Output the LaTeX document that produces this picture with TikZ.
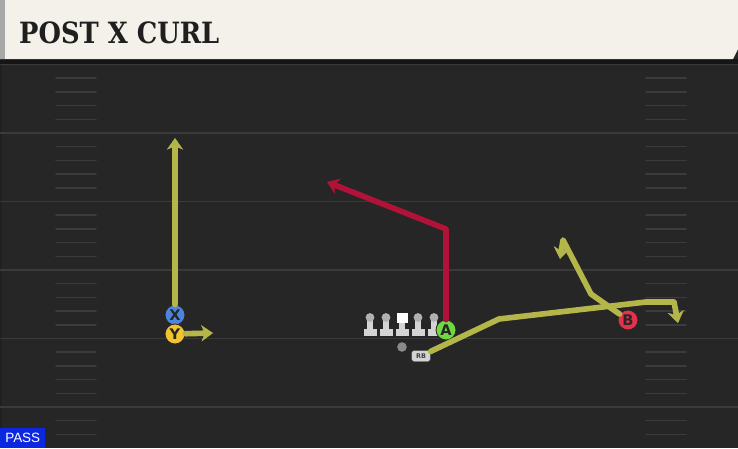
\documentclass[tikz,border=0pt]{standalone}
\usepackage{fontspec}
\setsansfont{DejaVu Sans}
\newfontfamily\titlefont{DejaVu Serif}
\newfontfamily\passfont{Liberation Sans}
\usetikzlibrary{arrows.meta}
\definecolor{fieldgray}{HTML}{262626}
\definecolor{bandgray}{HTML}{161616}
\definecolor{linegray}{HTML}{3A3A3A}
\definecolor{hashgray}{HTML}{3C3C3C}
\definecolor{cream}{HTML}{F4F1EA}
\definecolor{stripgray}{HTML}{A8A8A8}
\definecolor{routeyellow}{HTML}{B4B64A}
\definecolor{routered}{HTML}{B01238}
\definecolor{xblue}{HTML}{4C84DE}
\definecolor{yyellow}{HTML}{F2C230}
\definecolor{agreen}{HTML}{6FD93E}
\definecolor{bred}{HTML}{E4324A}
\definecolor{passblue}{HTML}{0B27E0}
\definecolor{olgray}{HTML}{D4D4D4}
\definecolor{headgray}{HTML}{B0B0B0}
\definecolor{qbgray}{HTML}{8A8A8A}
\begin{document}
\begin{tikzpicture}[x=0.03cm,y=-0.03cm,line join=round,line cap=round,
  yardline/.style={linegray,line width=1.6pt},
  hash/.style={hashgray,line width=1.3pt},
  route/.style={line width=4.8pt,-{Stealth[length=10pt,width=14pt,inset=3pt,line width=0.4pt]}},
  player/.style={circle,draw=black!85,line width=0.7pt,minimum size=0.6cm,inner sep=0pt,
    font=\sffamily\bfseries\fontsize{12.5}{12.5}\selectfont,text=black!85},
  rbbadge/.style={rounded corners=2pt,fill=olgray,draw=black!70,line width=0.4pt,minimum width=0.56cm,
    minimum height=0.33cm,inner sep=0pt,font=\sffamily\bfseries\fontsize{5.5}{5.5}\selectfont,text=black!75},
  title/.style={anchor=west,inner sep=0pt,text=black!88,font=\titlefont\bfseries\fontsize{25}{26}\selectfont},
  passbox/.style={anchor=south west,fill=passblue,text=white,minimum width=1.35cm,minimum height=0.6cm,
    inner sep=0pt,font=\passfont\fontsize{11.5}{11.5}\selectfont}]
\useasboundingbox (0,0) rectangle (738,448);
% field
\fill[fieldgray] (0,0) rectangle (738,448);
\fill[black!15!fieldgray] (0,64) rectangle (2,448);
\foreach \y in {64.5,133,201.5,270,338.5,407}
  \draw[yardline] (0,\y)--(738,\y);
\foreach \k in {1,2,3,4,6,7,8,9,11,12,13,14,16,17,18,19,21,22,23,24,26,27}{
  \draw[hash] (56,{64.5+13.7*\k})--(96,{64.5+13.7*\k});
  \draw[hash] (646,{64.5+13.7*\k})--(686,{64.5+13.7*\k});
}
% header
\fill[bandgray] (0,59) rectangle (738,63.5);
\fill[cream] (0,0)--(738,0)--(738,49)--(733,59)--(0,59)--cycle;
\fill[stripgray] (0,0) rectangle (5,59);
\node[title] (title) at (19,32.5) {\scalebox{0.88}[1]{POST X CURL}};

% line
\foreach \lx in {370,386,418,434}{
  \fill[olgray] (\lx-6.5,329) rectangle (\lx+6.5,336);
  \fill[olgray] (\lx-2.8,319) rectangle (\lx+2.8,330);
  \fill[headgray] (\lx,317.5) circle (4.4);
}
\fill[olgray] (395.5,329) rectangle (408.5,336);
\fill[olgray] (399.2,321) rectangle (404.8,330);
\fill[white] (396.5,312.5) rectangle (407.5,323);
\fill[qbgray] (402,347) circle (4.8);

% players
\node[player,fill=xblue] (X) at (175,315) {X};
\node[player,fill=yyellow] (Y) at (175,334) {Y};
\node[player,fill=agreen] (A) at (446,330) {A};
\node[player,fill=bred] (B) at (628,320) {B};
\node[rbbadge] (rb) at (421,356) {RB};

% routes
\coordinate (xtip) at (175,138);
\coordinate (ytip) at (213,333);
\coordinate (a1) at (446,229);
\coordinate (atip) at (327,182);
\coordinate (b1) at (591,294);
\coordinate (b2) at (563,240);
\coordinate (btip) at (560,259);
\coordinate (r1) at (499,319);
\coordinate (r2) at (646,302);
\coordinate (r3) at (674,302);
\coordinate (rtip) at (678,323);
\draw[route,routeyellow] (X)--(xtip);
\draw[route,routeyellow] (Y)--(ytip);
\draw[route,routered] (A)--(a1)--(atip);
\draw[route,routeyellow] (rb)--(r1)--(r2)--(r3)--(rtip);
\draw[route,routeyellow] (B)--(b1)--(b2)--(btip);

\node[passbox] (pass) at (0,448) {PASS};
\end{tikzpicture}
\end{document}
